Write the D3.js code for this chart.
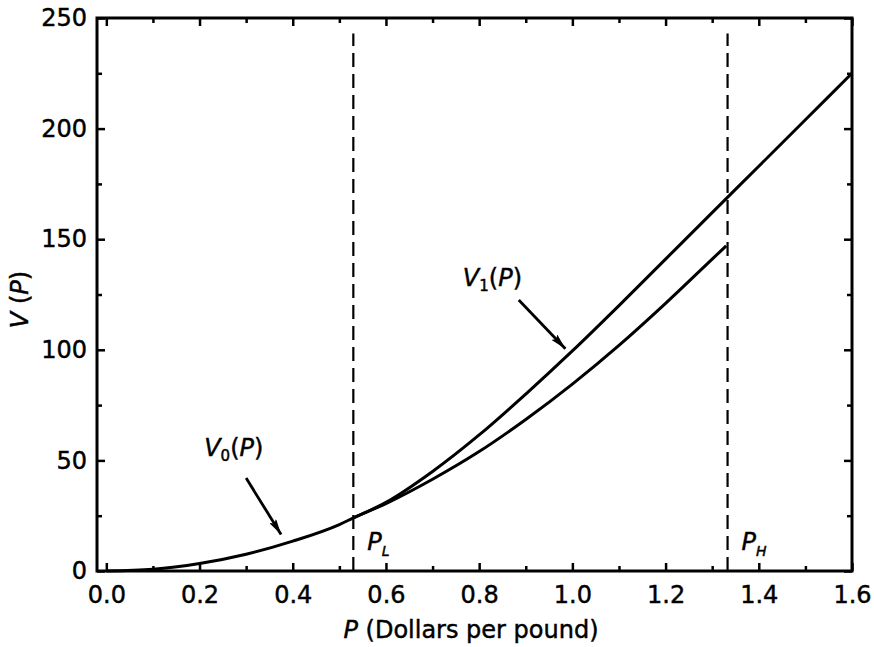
<!DOCTYPE html>
<html>
<head>
<meta charset="utf-8">
<script src="https://cdn.jsdelivr.net/npm/d3@7/dist/d3.min.js"></script>
<style>
  html, body { margin: 0; padding: 0; background: #fff; }
  svg { display: block; }
  text { font-family: "DejaVu Sans", sans-serif; fill: #000; stroke: #000; stroke-width: 0.45px; }
</style>
</head>
<body>
<svg id="chart" width="874" height="647"></svg>
<script>
// ---------- data ----------
const pV0 = [0, 0.1, 0.2, 0.3, 0.4, 0.5, 0.53, 0.6, 0.7, 0.8, 0.9, 1.0, 1.1, 1.2, 1.3, 1.33];
const v0Values = [0, 0.8, 3.4, 7.6, 13.5, 21, 24, 30.5, 41.5, 54, 68.5, 84.5, 102, 121, 141, 147];
const pV1 = [0.53, 0.6, 0.7, 0.8, 0.9, 1.0, 1.1, 1.2, 1.3, 1.4, 1.5, 1.6];
const v1Values = [24, 31, 45, 61.5, 80, 99.5, 120, 141, 162, 183, 204, 225];
const thresholds = [{ name: "L", p: 0.53 }, { name: "H", p: 1.333 }];
const xTicks = [0, 0.2, 0.4, 0.6, 0.8, 1.0, 1.2, 1.4, 1.6];
const xMinorTicks = [0.1, 0.3, 0.5, 0.7, 0.9, 1.1, 1.3, 1.5];
const yTicks = [0, 50, 100, 150, 200, 250];
const yMinorTicks = [25, 75, 125, 175, 225];
// annotation anchors (data units)
const labelV0 = { p: 0.21, v: 52, sub: "0", from: [0.30, 42], to: [0.375, 16.5] };
const labelV1 = { p: 0.765, v: 129, sub: "1", from: [0.885, 122.5], to: [0.985, 100.5] };
const xTitle = "(Dollars per pound)";
const dashTop = 243;

// ---------- layout ----------
const svg = d3.select("#chart");
const L = 97, R = 852, T = 18, B = 571;
const x = d3.scaleLinear().domain([-0.02, 1.6]).range([L, R]);
const y = d3.scaleLinear().domain([0, 250]).range([B, T]);

const fmtX = d3.format(".1f");

// arrow marker
const defs = svg.append("defs");
defs.append("marker")
  .attr("id", "arrow").attr("viewBox", "0 0 16 8")
  .attr("refX", 16).attr("refY", 4)
  .attr("markerWidth", 16).attr("markerHeight", 8)
  .attr("markerUnits", "userSpaceOnUse")
  .attr("orient", "auto")
  .append("path").attr("d", "M0,0 L16,4 L0,8 L3,4 Z").attr("fill", "#000");

// ---------- axes ----------
function styleAxis(g) {
  g.select(".domain").remove();
  g.selectAll(".tick line").attr("stroke", "#000").attr("stroke-width", 2.5);
  g.selectAll(".tick text").style("font-size", "24px").style("font-family", "DejaVu Sans, sans-serif").attr("fill", "#000");
}

// bottom major
svg.append("g").attr("transform", `translate(0,${B})`)
  .call(d3.axisBottom(x).tickValues(xTicks).tickFormat(fmtX).tickSize(-8).tickPadding(15))
  .call(styleAxis);
// bottom minor
svg.append("g").attr("transform", `translate(0,${B})`)
  .call(d3.axisBottom(x).tickValues(xMinorTicks).tickFormat("").tickSize(-5))
  .call(styleAxis);
// top
svg.append("g").attr("transform", `translate(0,${T})`)
  .call(d3.axisTop(x).tickValues(xTicks).tickFormat("").tickSize(-8))
  .call(styleAxis);
svg.append("g").attr("transform", `translate(0,${T})`)
  .call(d3.axisTop(x).tickValues(xMinorTicks).tickFormat("").tickSize(-5))
  .call(styleAxis);
// left
svg.append("g").attr("transform", `translate(${L},0)`)
  .call(d3.axisLeft(y).tickValues(yTicks).tickFormat(d3.format("d")).tickSize(-8).tickPadding(10))
  .call(styleAxis);
svg.append("g").attr("transform", `translate(${L},0)`)
  .call(d3.axisLeft(y).tickValues(yMinorTicks).tickFormat("").tickSize(-5))
  .call(styleAxis);
// right
svg.append("g").attr("transform", `translate(${R},0)`)
  .call(d3.axisRight(y).tickValues(yTicks).tickFormat("").tickSize(-8))
  .call(styleAxis);
svg.append("g").attr("transform", `translate(${R},0)`)
  .call(d3.axisRight(y).tickValues(yMinorTicks).tickFormat("").tickSize(-5))
  .call(styleAxis);

// frame
svg.append("rect")
  .attr("x", L).attr("y", T).attr("width", R - L).attr("height", B - T)
  .attr("fill", "none").attr("stroke", "#000").attr("stroke-width", 3);

// ---------- dashed threshold lines ----------
svg.selectAll(".thr").data(thresholds).enter().append("line")
  .attr("class", "thr")
  .attr("x1", d => x(d.p)).attr("x2", d => x(d.p))
  .attr("y1", y(0)).attr("y2", y(dashTop))
  .attr("stroke", "#000").attr("stroke-width", 2.2)
  .attr("stroke-dasharray", "14,7");

const thrLabels = svg.selectAll(".thrlab").data(thresholds).enter().append("text")
  .attr("class", "thrlab")
  .attr("x", d => x(d.p) + 14).attr("y", B - 21)
  .style("font-size", "24px");
thrLabels.append("tspan").style("font-style", "italic").text("P");
thrLabels.append("tspan").style("font-size", "14px").style("font-style", "italic")
  .attr("dy", 6).text(d => d.name);

// ---------- curves ----------
const line = d3.line().x(d => x(d[0])).y(d => y(d[1])).curve(d3.curveMonotoneX);
svg.append("path").datum(pV0.map((p, i) => [p, v0Values[i]]))
  .attr("d", line).attr("fill", "none").attr("stroke", "#000").attr("stroke-width", 3);
svg.append("path").datum(pV1.map((p, i) => [p, v1Values[i]]))
  .attr("d", line).attr("fill", "none").attr("stroke", "#000").attr("stroke-width", 3);

// ---------- annotations ----------
[labelV0, labelV1].forEach(a => {
  const t = svg.append("text").attr("x", x(a.p)).attr("y", y(a.v)).style("font-size", "24px");
  t.append("tspan").style("font-style", "italic").text("V");
  t.append("tspan").style("font-size", "15px").attr("dy", 5).text(a.sub);
  t.append("tspan").attr("dy", -5).text("(");
  t.append("tspan").style("font-style", "italic").text("P");
  t.append("tspan").text(")");
  svg.append("line")
    .attr("x1", x(a.from[0])).attr("y1", y(a.from[1]))
    .attr("x2", x(a.to[0])).attr("y2", y(a.to[1]))
    .attr("stroke", "#000").attr("stroke-width", 2.8)
    .attr("marker-end", "url(#arrow)");
});

// ---------- axis titles ----------
const xt = svg.append("text").attr("x", 471).attr("y", 638)
  .attr("text-anchor", "middle").style("font-size", "24px");
xt.append("tspan").style("font-style", "italic").text("P ");
xt.append("tspan").text(xTitle);

const yt = svg.append("text")
  .attr("transform", `translate(28,${(T + B) / 2 + 5}) rotate(-90)`)
  .attr("text-anchor", "middle").style("font-size", "24px");
yt.append("tspan").style("font-style", "italic").text("V");
yt.append("tspan").text(" (");
yt.append("tspan").style("font-style", "italic").text("P");
yt.append("tspan").text(")");
</script>
</body>
</html>
